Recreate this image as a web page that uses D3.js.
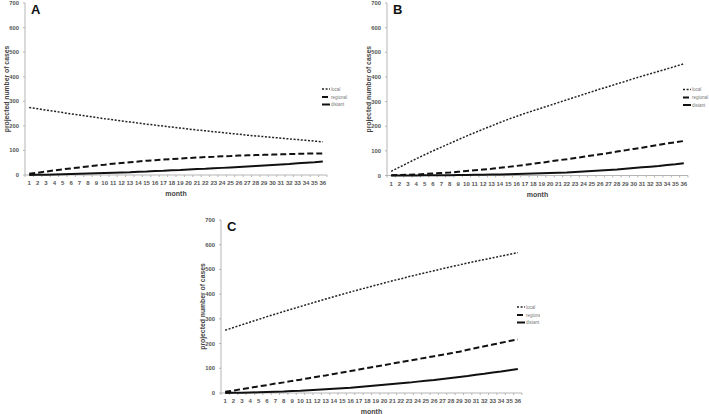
<!DOCTYPE html>
<html><head><meta charset="utf-8">
<script src="https://cdn.jsdelivr.net/npm/d3@7"></script>
<style>
html,body{margin:0;padding:0;background:#fff;}
svg{display:block;font-family:"Liberation Sans",Arial,sans-serif;}
</style></head>
<body><svg id="chart" width="709" height="414"></svg>
<script>
const months = d3.range(1, 37);
const yTicks = [0, 100, 200, 300, 400, 500, 600, 700];
const seriesNames = ["local", "regional", "distant"];
const panelLabels = ["A", "B", "C"];
const xTitle = "month";
const yTitle = "projected number of cases";

const localA = [275,270,264,259,254,249,244,239,234,229,225,220,216,211,207,203,199,195,191,187,183,180,176,173,169,166,162,159,156,153,150,147,144,141,138,135];
const regionalA = [5,9,14,19,23,27,31,35,39,42,46,49,52,55,58,60,63,65,67,69,71,73,74,76,77,79,80,81,82,83,84,85,86,87,87,88];
const distantA = [0,1,1,2,3,4,5,6,7,8,9,10,11,13,14,16,17,19,20,22,24,25,27,29,31,33,35,37,39,41,43,45,48,50,52,55];

const localB = [17,34,51,68,84,100,115,130,145,160,174,188,201,215,228,240,252,263,274,285,296,307,318,329,340,351,361,372,382,393,403,413,423,433,443,453];
const regionalB = [1,2,3,4,6,8,10,12,15,18,21,24,27,31,35,39,43,48,52,57,62,66,71,76,81,86,91,97,102,108,113,119,124,130,135,140];
const distantB = [0,0,0,0,1,1,1,1,2,2,3,3,4,4,5,6,7,8,9,10,11,12,14,16,18,20,22,24,27,30,33,36,39,43,46,50];

const localC = [254,265,276,287,298,309,319,330,340,350,360,370,380,390,399,409,418,427,436,445,454,462,471,479,487,495,503,511,518,526,533,540,547,554,561,568];
const regionalC = [5,10,16,21,27,32,38,43,49,54,60,66,71,77,83,89,95,101,107,113,119,125,131,137,143,149,155,161,167,175,182,189,196,203,210,217];
const distantC = [0,1,1,2,3,4,5,6,8,9,11,13,15,17,19,21,24,27,30,33,36,39,42,46,50,53,57,61,65,69,74,78,83,87,92,97];

const panels = [
  {label: panelLabels[0], data: [localA, regionalA, distantA], x0: 25, x1: 327, yb: 175, yt: 3, clip: null},
  {label: panelLabels[1], data: [localB, regionalB, distantB], x0: 387, x1: 688, yb: 175.5, yt: 3, clip: null},
  {label: panelLabels[2], data: [localC, regionalC, distantC], x0: 221, x1: 522, yb: 393, yt: 220, clip: 540}
];

const styles = [
  {dash: "2,1.6", width: 1.5, color: "#222"},
  {dash: "6,3", width: 2, color: "#111"},
  {dash: null, width: 2, color: "#111"}
];

const svg = d3.select("#chart");
const defs = svg.append("defs");

panels.forEach((p, pi) => {
  const g = svg.append("g");
  if (p.clip) {
    defs.append("clipPath").attr("id", "clip" + pi)
      .append("rect").attr("x", 0).attr("y", 0).attr("width", p.clip).attr("height", 414);
    g.attr("clip-path", `url(#clip${pi})`);
  }
  const x = d3.scaleLinear().domain([0.5, 36.5]).range([p.x0, p.x1]);
  const y = d3.scaleLinear().domain([0, 700]).range([p.yb, p.yt]);

  g.append("line").attr("x1", p.x0).attr("x2", p.x0).attr("y1", p.yt).attr("y2", p.yb)
    .attr("stroke", "#b5b5b5").attr("stroke-width", 1);
  g.append("line").attr("x1", p.x0).attr("x2", p.x1).attr("y1", p.yb).attr("y2", p.yb)
    .attr("stroke", "#b5b5b5").attr("stroke-width", 1);

  g.selectAll(".yt").data(yTicks).enter().append("line")
    .attr("x1", p.x0 - 2).attr("x2", p.x0).attr("y1", d => y(d)).attr("y2", d => y(d))
    .attr("stroke", "#b5b5b5");
  g.selectAll(".yl").data(yTicks).enter().append("text")
    .attr("x", p.x0 - 6).attr("y", d => y(d)).attr("dy", "0.35em")
    .attr("text-anchor", "end").attr("font-size", 5.8).attr("font-weight", "bold").attr("fill", "#555")
    .text(d => d);

  g.selectAll(".xt").data(d3.range(0, 37)).enter().append("line")
    .attr("x1", d => x(d + 0.5)).attr("x2", d => x(d + 0.5)).attr("y1", p.yb).attr("y2", p.yb + 2)
    .attr("stroke", "#b5b5b5");
  g.selectAll(".xl").data(months).enter().append("text")
    .attr("x", d => x(d)).attr("y", p.yb + 8).attr("dy", "0.35em")
    .attr("text-anchor", "middle").attr("font-size", 6).attr("font-weight", "bold").attr("fill", "#555")
    .text(d => d);

  g.append("text").attr("x", (p.x0 + p.x1) / 2).attr("y", p.yb + 19).attr("dy", "0.35em")
    .attr("text-anchor", "middle").attr("font-size", 7).attr("font-weight", "bold").attr("fill", "#444")
    .text(xTitle);
  g.append("text")
    .attr("transform", `translate(${p.x0 - 18},${(p.yt + p.yb) / 2}) rotate(-90)`)
    .attr("text-anchor", "middle").attr("dy", "0.35em")
    .attr("font-size", 6.8).attr("font-weight", "bold").attr("fill", "#444")
    .text(yTitle);

  g.append("text").attr("x", p.x0 + 6).attr("y", p.yt + 11)
    .attr("font-size", 13).attr("font-weight", "bold").attr("fill", "#111")
    .text(p.label);

  const line = d3.line().x((d, i) => x(months[i])).y(d => y(d));
  p.data.forEach((vals, si) => {
    const s = styles[si];
    g.append("path").datum(vals).attr("d", line)
      .attr("fill", "none").attr("stroke", s.color).attr("stroke-width", s.width)
      .attr("stroke-dasharray", s.dash);
  });

  const ly = [p.yb - 86, p.yb - 78, p.yb - 70.5];
  seriesNames.forEach((name, si) => {
    const s = styles[si];
    g.append("line").attr("x1", p.x1 - 5).attr("x2", p.x1 + 3).attr("y1", ly[si]).attr("y2", ly[si])
      .attr("stroke", s.color).attr("stroke-width", s.width).attr("stroke-dasharray", s.dash);
    g.append("text").attr("x", p.x1 + 4).attr("y", ly[si]).attr("dy", "0.35em")
      .attr("font-size", 4.5).attr("fill", "#777").text(name);
  });
});
</script></body></html>
